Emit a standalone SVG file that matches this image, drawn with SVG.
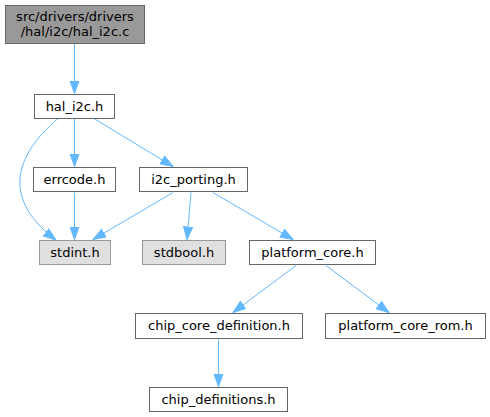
<svg xmlns="http://www.w3.org/2000/svg" width="490" height="417" viewBox="0 0 490 417">
<defs>
<marker id="ah" markerWidth="14" markerHeight="11" refX="13" refY="5" orient="auto" markerUnits="userSpaceOnUse">
<path d="M0.5,0.5 L13,5 L0.5,9.5 Z" fill="#63b8ff" stroke="#63b8ff" stroke-width="1"/>
</marker>
</defs>
<style>
.n rect{fill:#fff;stroke:#666;stroke-width:1}
.g rect{fill:#e0e0e0;stroke:#999;stroke-width:1}
.r rect{fill:#999;stroke:#666;stroke-width:1}
text{font-family:"DejaVu Sans",sans-serif;font-size:13px;fill:#000;text-anchor:middle}
.e path{fill:none;stroke:#63b8ff;stroke-width:1;marker-end:url(#ah)}
</style>
<rect width="490" height="417" fill="#fff"/>
<g class="e" id="edges">
<path d="M74.5,43.5 V93.5"/>
<path d="M74.5,118.5 V166.5"/>
<path d="M58,118.5 C35,138 18,162 20,186 C22,210 40,228 56,240"/>
<path d="M94,118.5 L173,166.5"/>
<path d="M74.5,192.5 V239.5"/>
<path d="M173,192.5 L93,239.5"/>
<path d="M191,192.5 L187,239.5"/>
<path d="M213,192.5 L293,239.5"/>
<path d="M296,265.5 L233,312.5"/>
<path d="M326,265.5 L389,312.5"/>
<path d="M218.5,339.5 V386.5"/>
</g>
<g id="node0" class="r"><rect x="5.5" y="5.5" width="139" height="38"/><text x="75" y="21">src/drivers/drivers</text><text x="75" y="36">/hal/i2c/hal_i2c.c</text></g>
<g id="node1" class="n"><rect x="34.5" y="94.5" width="80" height="24"/><text x="74.5" y="111">hal_i2c.h</text></g>
<g id="node2" class="n"><rect x="33.5" y="167.5" width="82" height="24"/><text x="74.5" y="184">errcode.h</text></g>
<g id="node3" class="n"><rect x="139.5" y="167.5" width="108" height="24"/><text x="193.5" y="184">i2c_porting.h</text></g>
<g id="node4" class="g"><rect x="39.5" y="240.5" width="71" height="24"/><text x="75" y="257">stdint.h</text></g>
<g id="node5" class="g"><rect x="142.5" y="240.5" width="83" height="24"/><text x="184" y="257">stdbool.h</text></g>
<g id="node6" class="n"><rect x="249.5" y="240.5" width="126" height="24"/><text x="312.5" y="257">platform_core.h</text></g>
<g id="node7" class="n"><rect x="135.5" y="313.5" width="167" height="25"/><text x="219" y="330">chip_core_definition.h</text></g>
<g id="node8" class="n"><rect x="325.5" y="313.5" width="160" height="25"/><text x="405.5" y="330">platform_core_rom.h</text></g>
<g id="node9" class="n"><rect x="149.5" y="387.5" width="138" height="24"/><text x="218.5" y="404">chip_definitions.h</text></g>
</svg>
